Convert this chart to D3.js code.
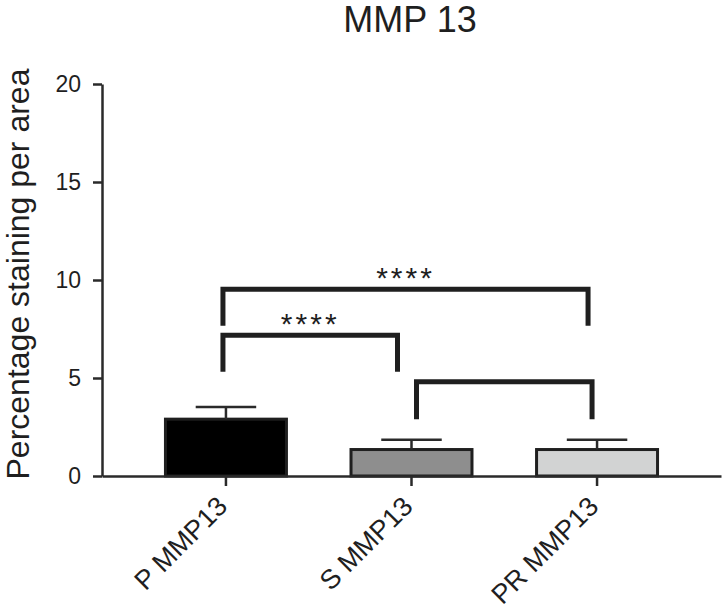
<!DOCTYPE html>
<html>
<head>
<meta charset="utf-8">
<script src="https://cdn.jsdelivr.net/npm/d3@7"></script>
<style>
  html, body { margin: 0; padding: 0; background: #fff; }
  svg { display: block; font-family: "Liberation Sans", Arial, Helvetica, sans-serif; }
</style>
</head>
<body>
<svg id="chart" width="722" height="616"></svg>
<script>
// ---- data ----
const categories = ["P MMP13", "S MMP13", "PR MMP13"];
const means = [2.9, 1.35, 1.35];
const errors = [0.62, 0.5, 0.5];
const yTicks = [0, 5, 10, 15, 20];
const title = "MMP 13";
const yLabel = "Percentage staining per area";
// significance brackets
const bracketFrom = [0, 0, 1];
const bracketTo = [2, 1, 2];
const bracketTop = [9.53, 7.18, 4.81];
const bracketLegEnd = [7.67, 5.32, 2.89];
const bracketLabel = ["****", "****", ""];

// ---- layout ----
const svg = d3.select("#chart");
const fills = ["#000000", "#8e8e8e", "#d2d3d3"];
const ink = "#1f1f1f";

const x = d3.scaleBand().domain(categories).range([102, 721])
  .paddingInner(0.348).paddingOuter(0.342);
const y = d3.scaleLinear().domain([0, 20]).range([476, 84]);

// title
svg.append("text").attr("x", 410).attr("y", 32).attr("text-anchor", "middle")
  .attr("font-size", 36).attr("fill", ink).text(title);

// y label
svg.append("text").attr("transform", "translate(29,274) rotate(-90)")
  .attr("text-anchor", "middle").attr("font-size", 32).attr("fill", ink).text(yLabel);

// y axis
const yAxis = svg.append("g").attr("transform", "translate(102,0)")
  .call(d3.axisLeft(y).tickValues(yTicks).tickSize(9).tickPadding(12).tickSizeOuter(0));
yAxis.select(".domain").attr("stroke", "#2a2a2a").attr("stroke-width", 2.5);
yAxis.selectAll(".tick line").attr("stroke", "#2a2a2a").attr("stroke-width", 2.5);
yAxis.selectAll(".tick text").attr("font-size", 23).attr("fill", ink)
  .attr("font-family", "Liberation Sans, Arial, sans-serif");

// bars
const bw = x.bandwidth();
svg.append("g").selectAll("rect").data(categories).join("rect")
  .attr("x", d => x(d)).attr("width", bw)
  .attr("y", (d, i) => y(means[i])).attr("height", (d, i) => y(0) - y(means[i]))
  .attr("fill", (d, i) => fills[i]).attr("stroke", ink).attr("stroke-width", 3);

// error bars (upper only)
const eg = svg.append("g").attr("stroke", "#2a2a2a").attr("stroke-width", 2.5);
categories.forEach((c, i) => {
  const cx = x(c) + bw / 2;
  eg.append("line").attr("x1", cx).attr("x2", cx).attr("y1", y(means[i])).attr("y2", y(means[i] + errors[i]));
  eg.append("line").attr("x1", cx - bw / 4).attr("x2", cx + bw / 4)
    .attr("y1", y(means[i] + errors[i])).attr("y2", y(means[i] + errors[i]));
});

// x axis
const xAxis = svg.append("g").attr("transform", "translate(0,476)")
  .call(d3.axisBottom(x).tickSize(10).tickSizeOuter(0).tickFormat(""));
xAxis.select(".domain").attr("stroke", "#2a2a2a").attr("stroke-width", 2.5);
xAxis.selectAll(".tick line").attr("stroke", "#2a2a2a").attr("stroke-width", 2.5);

svg.append("g").selectAll("text").data(categories).join("text")
  .attr("transform", d => `translate(${x(d) + bw / 2 + 3},508) rotate(-45)`)
  .attr("text-anchor", "end").attr("font-size", 27).attr("fill", ink).text(d => d);

// significance brackets
const leftOff = [-3, -3, 5];
const rightOff = [-9, -14, -5];
const bg = svg.append("g");
bracketFrom.forEach((f, i) => {
  const x1 = x(categories[f]) + bw / 2 + leftOff[i];
  const x2 = x(categories[bracketTo[i]]) + bw / 2 + rightOff[i];
  const yt = y(bracketTop[i]), yb = y(bracketLegEnd[i]);
  bg.append("path").attr("d", `M${x1},${yb}V${yt}H${x2}V${yb}`)
    .attr("fill", "none").attr("stroke", ink).attr("stroke-width", 5)
    .attr("stroke-linejoin", "miter");
  if (bracketLabel[i]) {
    bg.append("text").attr("x", (x1 + x2) / 2).attr("y", yt - 1)
      .attr("text-anchor", "middle").attr("font-size", 30).attr("letter-spacing", 3)
      .attr("fill", ink).text(bracketLabel[i]);
  }
});
</script>
</body>
</html>
